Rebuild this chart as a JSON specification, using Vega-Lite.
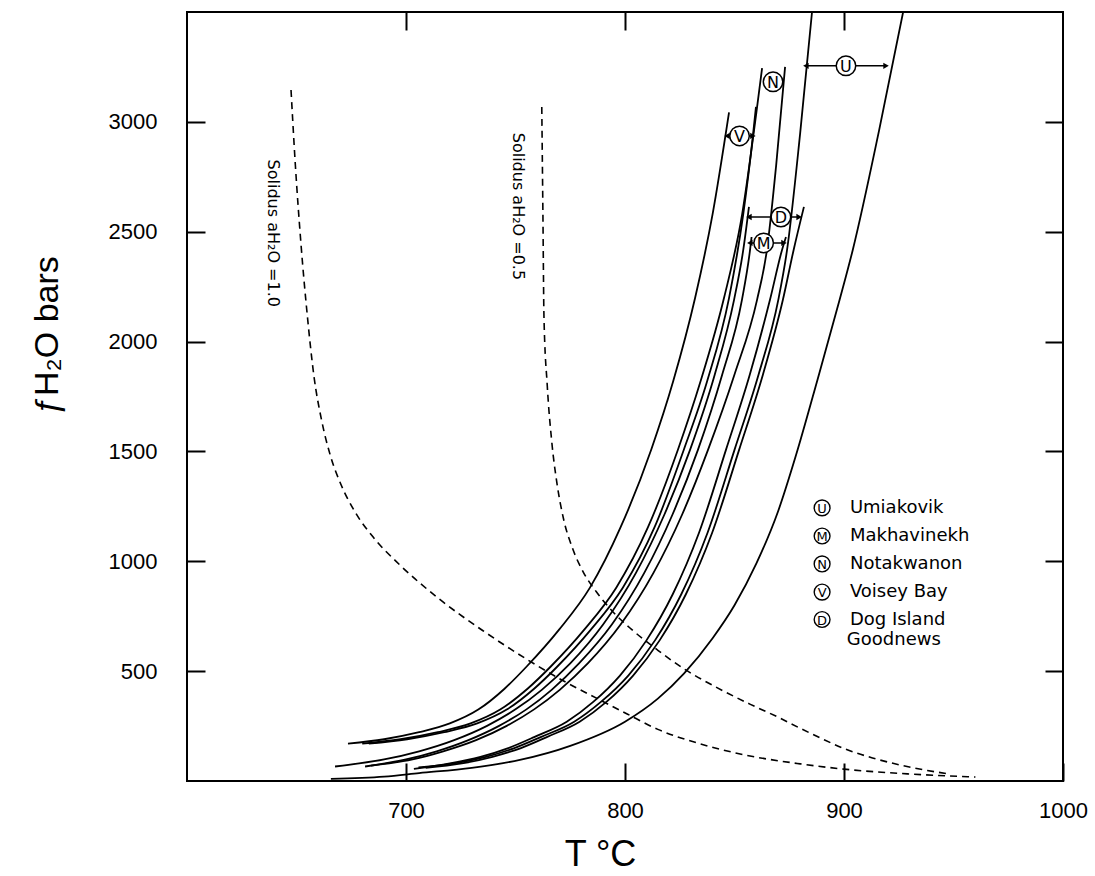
{
  "$schema": "https://vega.github.io/schema/vega-lite/v6.json",
  "width": 876,
  "height": 769,
  "autosize": "none",
  "padding": {"left": 187, "top": 12, "right": 32, "bottom": 95},
  "background": "white",
  "config": {
    "view": {"stroke": "black", "strokeWidth": 2},
    "axis": {"domain": false, "grid": false, "tickColor": "black", "tickWidth": 2, "labelColor": "black", "labelFont": "Liberation Sans", "titleFont": "Liberation Sans", "titleFontWeight": "normal", "titleColor": "black"}
  },
  "datasets": {
    "curves": [
      {"c":"VL","T":673.5,"v":170},{"c":"VL","T":690,"v":190},{"c":"VL","T":706,"v":222},{"c":"VL","T":720,"v":262},{"c":"VL","T":733,"v":325},{"c":"VL","T":745,"v":420},{"c":"VL","T":755,"v":520},{"c":"VL","T":770,"v":690},{"c":"VL","T":784,"v":880},{"c":"VL","T":798,"v":1155},{"c":"VL","T":812,"v":1509},{"c":"VL","T":822,"v":1819},{"c":"VL","T":832,"v":2198},{"c":"VL","T":840,"v":2580},{"c":"VL","T":847.5,"v":3043},
      {"c":"NL","T":680,"v":170},{"c":"NL","T":697.5,"v":190},{"c":"NL","T":714.5,"v":222},{"c":"NL","T":729.5,"v":262},{"c":"NL","T":743,"v":325},{"c":"NL","T":755.5,"v":420},{"c":"NL","T":766,"v":520},{"c":"NL","T":781.5,"v":690},{"c":"NL","T":796,"v":880},{"c":"NL","T":810.5,"v":1155},{"c":"NL","T":824.2,"v":1509},{"c":"NL","T":834.5,"v":1819},{"c":"NL","T":845.2,"v":2198},{"c":"NL","T":853.5,"v":2580},{"c":"NL","T":860,"v":3043},{"c":"NL","T":862.6,"v":3245},
      {"c":"VR","T":683,"v":170},{"c":"VR","T":700.5,"v":190},{"c":"VR","T":717.5,"v":222},{"c":"VR","T":732.5,"v":262},{"c":"VR","T":746,"v":325},{"c":"VR","T":758.5,"v":420},{"c":"VR","T":769,"v":520},{"c":"VR","T":784.5,"v":690},{"c":"VR","T":799,"v":880},{"c":"VR","T":813.5,"v":1155},{"c":"VR","T":826.9,"v":1509},{"c":"VR","T":837.5,"v":1819},{"c":"VR","T":847.5,"v":2198},{"c":"VR","T":854,"v":2580},{"c":"VR","T":858.4,"v":2936},{"c":"VR","T":859.8,"v":3068},
      {"c":"DL","T":667.6,"v":66},{"c":"DL","T":690,"v":98},{"c":"DL","T":706,"v":135},{"c":"DL","T":722,"v":186},{"c":"DL","T":737,"v":251},{"c":"DL","T":750,"v":326},{"c":"DL","T":762,"v":415},{"c":"DL","T":775,"v":535},{"c":"DL","T":790,"v":712},{"c":"DL","T":805,"v":947},{"c":"DL","T":818,"v":1213},{"c":"DL","T":829.7,"v":1507},{"c":"DL","T":841,"v":1850},{"c":"DL","T":849.8,"v":2190},{"c":"DL","T":854,"v":2417},{"c":"DL","T":856.6,"v":2613},
      {"c":"ML","T":681.3,"v":66},{"c":"ML","T":700,"v":98},{"c":"ML","T":714,"v":135},{"c":"ML","T":728.5,"v":186},{"c":"ML","T":742.5,"v":251},{"c":"ML","T":755,"v":326},{"c":"ML","T":766.5,"v":415},{"c":"ML","T":779,"v":535},{"c":"ML","T":794,"v":712},{"c":"ML","T":808.8,"v":947},{"c":"ML","T":821.7,"v":1213},{"c":"ML","T":833.3,"v":1507},{"c":"ML","T":844.4,"v":1850},{"c":"ML","T":853.4,"v":2190},{"c":"ML","T":857.1,"v":2417},{"c":"ML","T":857.8,"v":2476},
      {"c":"NR","T":684,"v":70},{"c":"NR","T":703,"v":98},{"c":"NR","T":717,"v":135},{"c":"NR","T":732,"v":186},{"c":"NR","T":746,"v":251},{"c":"NR","T":758.5,"v":326},{"c":"NR","T":770.2,"v":415},{"c":"NR","T":783,"v":535},{"c":"NR","T":798,"v":712},{"c":"NR","T":813,"v":947},{"c":"NR","T":826.1,"v":1213},{"c":"NR","T":837.9,"v":1507},{"c":"NR","T":850,"v":1850},{"c":"NR","T":860.3,"v":2190},{"c":"NR","T":864.8,"v":2417},{"c":"NR","T":869,"v":2800},{"c":"NR","T":873.1,"v":3250},
      {"c":"MR","T":703.6,"v":55},{"c":"MR","T":720,"v":80},{"c":"MR","T":734,"v":110},{"c":"MR","T":746.7,"v":150},{"c":"MR","T":758.5,"v":200},{"c":"MR","T":773.4,"v":270},{"c":"MR","T":785.5,"v":360},{"c":"MR","T":797.7,"v":480},{"c":"MR","T":809.8,"v":640},{"c":"MR","T":821.8,"v":850},{"c":"MR","T":833.8,"v":1130},{"c":"MR","T":846.1,"v":1507},{"c":"MR","T":857,"v":1850},{"c":"MR","T":866.2,"v":2190},{"c":"MR","T":871.7,"v":2417},{"c":"MR","T":873.5,"v":2476},
      {"c":"UL","T":705.7,"v":62},{"c":"UL","T":722,"v":80},{"c":"UL","T":736.5,"v":110},{"c":"UL","T":749.5,"v":150},{"c":"UL","T":761.5,"v":200},{"c":"UL","T":776.8,"v":270},{"c":"UL","T":789,"v":360},{"c":"UL","T":801.5,"v":480},{"c":"UL","T":813.7,"v":640},{"c":"UL","T":825.7,"v":850},{"c":"UL","T":837.7,"v":1130},{"c":"UL","T":850,"v":1507},{"c":"UL","T":861,"v":1850},{"c":"UL","T":870,"v":2190},{"c":"UL","T":874,"v":2417},{"c":"UL","T":880,"v":2950},{"c":"UL","T":885.4,"v":3500},
      {"c":"DR","T":709,"v":60},{"c":"DR","T":725.5,"v":80},{"c":"DR","T":739.5,"v":110},{"c":"DR","T":752.5,"v":150},{"c":"DR","T":764.3,"v":200},{"c":"DR","T":779.3,"v":270},{"c":"DR","T":791.5,"v":360},{"c":"DR","T":803.7,"v":480},{"c":"DR","T":815.8,"v":640},{"c":"DR","T":827.8,"v":850},{"c":"DR","T":839.8,"v":1130},{"c":"DR","T":852.1,"v":1507},{"c":"DR","T":863,"v":1850},{"c":"DR","T":872.1,"v":2190},{"c":"DR","T":877,"v":2417},{"c":"DR","T":881.7,"v":2613},
      {"c":"UR","T":665.7,"v":10},{"c":"UR","T":690,"v":20},{"c":"UR","T":706,"v":36},{"c":"UR","T":730,"v":60},{"c":"UR","T":752,"v":96},{"c":"UR","T":775,"v":160},{"c":"UR","T":800,"v":270},{"c":"UR","T":815,"v":375},{"c":"UR","T":827,"v":490},{"c":"UR","T":840,"v":650},{"c":"UR","T":850,"v":800},{"c":"UR","T":860,"v":990},{"c":"UR","T":870,"v":1230},{"c":"UR","T":878,"v":1480},{"c":"UR","T":888,"v":1830},{"c":"UR","T":898,"v":2190},{"c":"UR","T":904,"v":2417},{"c":"UR","T":916,"v":2960},{"c":"UR","T":927,"v":3500}
    ],
    "dashed": [
      {"c":"S10","T":647.5,"v":3145},{"c":"S10","T":649.5,"v":2800},{"c":"S10","T":652,"v":2450},{"c":"S10","T":655,"v":2112},{"c":"S10","T":658,"v":1840},{"c":"S10","T":661.5,"v":1640},{"c":"S10","T":665.5,"v":1480},{"c":"S10","T":670.5,"v":1345},{"c":"S10","T":677,"v":1220},{"c":"S10","T":685,"v":1110},{"c":"S10","T":697,"v":985},{"c":"S10","T":715,"v":830},{"c":"S10","T":735,"v":685},{"c":"S10","T":755,"v":555},{"c":"S10","T":772,"v":455},{"c":"S10","T":788,"v":372},{"c":"S10","T":801,"v":305},{"c":"S10","T":815,"v":235},{"c":"S10","T":834,"v":170},{"c":"S10","T":855,"v":118},{"c":"S10","T":880,"v":78},{"c":"S10","T":900,"v":54},{"c":"S10","T":930,"v":32},{"c":"S10","T":960,"v":18},
      {"c":"S05","T":762,"v":3068},{"c":"S05","T":762.5,"v":2600},{"c":"S05","T":763,"v":2112},{"c":"S05","T":764.5,"v":1800},{"c":"S05","T":766.5,"v":1550},{"c":"S05","T":769,"v":1350},{"c":"S05","T":772,"v":1190},{"c":"S05","T":776,"v":1060},{"c":"S05","T":781,"v":950},{"c":"S05","T":787,"v":860},{"c":"S05","T":794,"v":775},{"c":"S05","T":803,"v":690},{"c":"S05","T":815,"v":595},{"c":"S05","T":827,"v":510},{"c":"S05","T":842,"v":425},{"c":"S05","T":857,"v":350},{"c":"S05","T":870,"v":290},{"c":"S05","T":880,"v":240},{"c":"S05","T":890,"v":192},{"c":"S05","T":900,"v":148},{"c":"S05","T":913,"v":105},{"c":"S05","T":926,"v":72},{"c":"S05","T":938,"v":48},{"c":"S05","T":948,"v":32}
    ],
    "arrows": [
      {"lab":"U","T1":882.6,"T2":919.2,"v":3255},
      {"lab":"V","T1":846.6,"T2":858.4,"v":2936},
      {"lab":"D","T1":856.6,"T2":879.5,"v":2567},
      {"lab":"M","T1":857,"T2":872.6,"v":2449}
    ],
    "heads": [
      {"T":882.6,"v":3255,"dir":"L"},{"T":919.2,"v":3255,"dir":"R"},
      {"T":846.6,"v":2936,"dir":"L"},{"T":858.4,"v":2936,"dir":"R"},
      {"T":856.6,"v":2567,"dir":"L"},{"T":879.5,"v":2567,"dir":"R"},
      {"T":857,"v":2449,"dir":"L"},{"T":872.6,"v":2449,"dir":"R"}
    ],
    "circles": [
      {"lab":"U","T":900.9,"v":3255},
      {"lab":"N","T":867.6,"v":3182},
      {"lab":"V","T":852.3,"v":2936},
      {"lab":"D","T":871.2,"v":2567},
      {"lab":"M","T":863.3,"v":2449}
    ],
    "legend": [
      {"lab":"U","name":"Umiakovik","v":1243},
      {"lab":"M","name":"Makhavinekh","v":1115},
      {"lab":"N","name":"Notakwanon","v":988},
      {"lab":"V","name":"Voisey  Bay","v":860},
      {"lab":"D","name":"Dog  Island","v":735}
    ],
    "legend2": [
      {"name":"Goodnews","T":901.3,"v":644}
    ],
    "solidus": [
      {"text":"Solidus aH₂O =1.0","T":639.3,"v":2493},
      {"text":"Solidus aH₂O =0.5","T":751.1,"v":2615}
    ]
  },
  "layer": [
    {
      "data": {"name": "curves"},
      "mark": {"type": "line", "color": "black", "strokeWidth": 1.8, "interpolate": "monotone", "clip": true},
      "encoding": {
        "x": {"field": "T", "type": "quantitative", "scale": {"domain": [600, 1000], "nice": false, "zero": false},
          "axis": {"orient": "bottom", "values": [700, 800, 900, 1000], "format": "d", "labelFontSize": 22, "tickSize": -18, "labelPadding": 37, "labelFlush": false, "title": "T °C", "titleFontSize": 36, "titleX": 413, "titleY": 84, "titleBaseline": "alphabetic", "titleAlign": "center"}},
        "y": {"field": "v", "type": "quantitative", "scale": {"domain": [0, 3500], "nice": false, "zero": false},
          "axis": {"orient": "left", "values": [500, 1000, 1500, 2000, 2500, 3000], "format": "d", "labelFontSize": 22, "tickSize": -18, "labelPadding": 48, "title": "ƒH₂O    bars", "titleFontSize": 34, "titleX": -140, "titleY": 323, "titleAlign": "center", "titleBaseline": "middle", "titleAngle": 270}},
        "detail": {"field": "c"}
      }
    },
    {
      "data": {"name": "dashed"},
      "mark": {"type": "line", "color": "black", "strokeWidth": 1.6, "strokeDash": [7, 5], "interpolate": "monotone", "clip": true},
      "encoding": {
        "x": {"field": "T", "type": "quantitative", "axis": null},
        "y": {"field": "v", "type": "quantitative", "axis": null},
        "detail": {"field": "c"}
      }
    },
    {
      "data": {"name": "arrows"},
      "mark": {"type": "rule", "color": "black", "strokeWidth": 1.5},
      "encoding": {
        "x": {"field": "T1", "type": "quantitative",
          "axis": {"orient": "top", "values": [700, 800, 900], "labels": false, "tickSize": -18, "title": null}},
        "x2": {"field": "T2"},
        "y": {"field": "v", "type": "quantitative",
          "axis": {"orient": "right", "values": [500, 1000, 1500, 2000, 2500, 3000], "labels": false, "tickSize": -18, "title": null}}
      }
    },
    {
      "data": {"name": "heads"},
      "mark": {"type": "point", "filled": true, "color": "black", "size": 40, "opacity": 1},
      "encoding": {
        "x": {"field": "T", "type": "quantitative", "axis": null},
        "y": {"field": "v", "type": "quantitative", "axis": null},
        "shape": {"field": "dir", "type": "nominal", "scale": {"domain": ["L", "R"], "range": ["triangle-left", "triangle-right"]}, "legend": null}
      }
    },
    {
      "data": {"name": "circles"},
      "mark": {"type": "point", "shape": "circle", "size": 380, "filled": false, "fill": "white", "fillOpacity": 1, "stroke": "black", "strokeWidth": 1.5, "opacity": 1},
      "encoding": {
        "x": {"field": "T", "type": "quantitative", "axis": null},
        "y": {"field": "v", "type": "quantitative", "axis": null}
      }
    },
    {
      "data": {"name": "circles"},
      "mark": {"type": "text", "font": "DejaVu Sans", "fontSize": 16, "color": "black", "align": "center", "baseline": "middle", "dy": 1},
      "encoding": {
        "x": {"field": "T", "type": "quantitative", "axis": null},
        "y": {"field": "v", "type": "quantitative", "axis": null},
        "text": {"field": "lab"}
      }
    },
    {
      "data": {"name": "legend"},
      "mark": {"type": "point", "shape": "circle", "size": 250, "filled": false, "stroke": "black", "strokeWidth": 1.4, "opacity": 1},
      "encoding": {
        "x": {"datum": 890, "type": "quantitative", "axis": null},
        "y": {"field": "v", "type": "quantitative", "axis": null}
      }
    },
    {
      "data": {"name": "legend"},
      "mark": {"type": "text", "font": "DejaVu Sans", "fontSize": 13, "color": "black", "align": "center", "baseline": "middle", "dy": 1},
      "encoding": {
        "x": {"datum": 890, "type": "quantitative", "axis": null},
        "y": {"field": "v", "type": "quantitative", "axis": null},
        "text": {"field": "lab"}
      }
    },
    {
      "data": {"name": "legend"},
      "mark": {"type": "text", "font": "DejaVu Sans", "fontSize": 18, "color": "black", "align": "left", "baseline": "middle"},
      "encoding": {
        "x": {"datum": 902.7, "type": "quantitative", "axis": null},
        "y": {"field": "v", "type": "quantitative", "axis": null},
        "text": {"field": "name"}
      }
    },
    {
      "data": {"name": "legend2"},
      "mark": {"type": "text", "font": "DejaVu Sans", "fontSize": 18, "color": "black", "align": "left", "baseline": "middle"},
      "encoding": {
        "x": {"field": "T", "type": "quantitative", "axis": null},
        "y": {"field": "v", "type": "quantitative", "axis": null},
        "text": {"field": "name"}
      }
    },
    {
      "data": {"name": "solidus"},
      "mark": {"type": "text", "font": "DejaVu Sans", "fontSize": 16, "color": "black", "align": "center", "baseline": "middle", "angle": 90},
      "encoding": {
        "x": {"field": "T", "type": "quantitative", "axis": null},
        "y": {"field": "v", "type": "quantitative", "axis": null},
        "text": {"field": "text"}
      }
    }
  ],
  "resolve": {"axis": {"x": "independent", "y": "independent"}}
}
